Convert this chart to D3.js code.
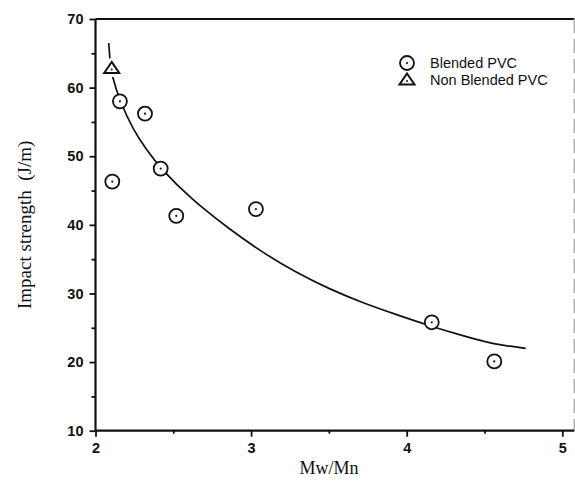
<!DOCTYPE html>
<html>
<head>
<meta charset="utf-8">
<script src="https://cdn.jsdelivr.net/npm/d3@7"></script>
<style>
  body { margin: 0; background: #fff; }
  svg { display: block; }
</style>
</head>
<body>
<div id="chart"></div>
<script>
// values
const blendedX = [2.157, 2.318, 2.419, 2.108, 2.519, 3.031, 4.161, 4.563];
const blendedY = [58.0, 56.2, 48.2, 46.3, 41.3, 42.3, 25.8, 20.1];
const nonBlendedX = [2.104];
const nonBlendedY = [62.8];

// fitted curve, traced point by point
const curveX = [2.085, 2.088, 2.094, 2.104, 2.157, 2.243, 2.329, 2.419, 2.607, 2.864, 3.078, 3.293, 3.507, 3.721, 3.936, 4.118, 4.364, 4.557, 4.765];
const curveY = [66.5, 65.6, 63.8, 61.8, 58.0, 53.8, 50.9, 48.2, 43.9, 39.3, 35.9, 33.0, 30.6, 28.6, 26.9, 25.5, 23.8, 22.6, 22.0];

const xTicks = [2, 3, 4, 5];
const xMinor = [2.5, 3.5, 4.5];
const yTicks = [10, 20, 30, 40, 50, 60, 70];
const yMinor = [15, 25, 35, 45, 55, 65];

const legendLabels = ['Blended PVC', 'Non Blended PVC'];

const W = 575, H = 483;
const margin = { top: 19, right: 12.7, bottom: 52.3, left: 95.5 };
const width = W - margin.left - margin.right;
const height = H - margin.top - margin.bottom;

const svg = d3.select('#chart').append('svg')
  .attr('width', W)
  .attr('height', H);

const g = svg.append('g')
  .attr('transform', `translate(${margin.left},${margin.top})`);

const x = d3.scaleLinear().domain([2, 5]).range([0, width]);
const y = d3.scaleLinear().domain([10, 70]).range([height, 0]);

const tickFont = '"Liberation Sans", Arial, Helvetica, sans-serif';
const serif = '"Liberation Serif", "Times New Roman", serif';

// frame: top and right borders (right one runs a bit past x=5)
g.append('line')
  .attr('x1', 0).attr('x2', width + 12)
  .attr('y1', 0).attr('y2', 0)
  .attr('stroke', '#111').attr('stroke-width', 1.8);
g.append('line')
  .attr('x1', width + 12).attr('x2', width + 12)
  .attr('y1', 0).attr('y2', height)
  .attr('stroke', '#aaa').attr('stroke-width', 1.4)
  .attr('stroke-dasharray', '14,6');

// x axis
const xAxis = g.append('g')
  .attr('transform', `translate(0,${height})`)
  .call(d3.axisBottom(x).tickValues(xTicks).tickSize(6).tickPadding(6).tickFormat(d3.format('d')));
xAxis.select('.domain').remove();
g.append('line')
  .attr('x1', 0).attr('x2', width + 12)
  .attr('y1', height).attr('y2', height)
  .attr('stroke', '#111').attr('stroke-width', 2.2);
g.append('g')
  .attr('transform', `translate(0,${height})`)
  .call(d3.axisBottom(x).tickValues(xMinor).tickSize(3).tickFormat(''))
  .select('.domain').remove();

// y axis
const yAxis = g.append('g')
  .call(d3.axisLeft(y).tickValues(yTicks).tickSize(6).tickPadding(6).tickFormat(d3.format('d')));
yAxis.select('.domain').remove();
g.append('line')
  .attr('x1', 0).attr('x2', 0)
  .attr('y1', 0).attr('y2', height)
  .attr('stroke', '#111').attr('stroke-width', 2.2);
g.append('g')
  .call(d3.axisLeft(y).tickValues(yMinor).tickSize(4).tickFormat(''))
  .select('.domain').remove();

g.selectAll('.tick line').attr('stroke', '#111').attr('stroke-width', 1.8);
g.selectAll('.tick text')
  .attr('fill', '#111')
  .style('font-family', tickFont)
  .style('font-weight', 'bold')
  .style('font-size', '14.5px');

// fitted curve
const curveData = curveX.map((d, i) => ({ x: d, y: curveY[i] }));
const line = d3.line()
  .x(d => x(d.x))
  .y(d => y(d.y))
  .curve(d3.curveBasis);

g.append('path')
  .datum(curveData)
  .attr('fill', 'none')
  .attr('stroke', '#111')
  .attr('stroke-width', 1.7)
  .attr('d', line);

// markers
const triPath = 'M0,-6.5L7.5,4.5L-7.5,4.5Z';

function circleMark(sel) {
  sel.append('circle').attr('r', 7)
    .attr('fill', '#fff').attr('stroke', '#111').attr('stroke-width', 1.8);
  sel.append('circle').attr('r', 1.1).attr('fill', '#111');
}
function triMark(sel, halo) {
  if (halo) {
    sel.append('path').attr('d', triPath)
      .attr('fill', '#fff').attr('stroke', '#fff').attr('stroke-width', 8)
      .attr('stroke-linejoin', 'round');
  }
  sel.append('path').attr('d', triPath)
    .attr('fill', '#fff').attr('stroke', '#111').attr('stroke-width', 2)
    .attr('stroke-linejoin', 'miter');
  sel.append('circle').attr('cy', 1).attr('r', 1).attr('fill', '#111');
}

const blended = blendedX.map((d, i) => ({ x: d, y: blendedY[i] }));
const nonBlended = nonBlendedX.map((d, i) => ({ x: d, y: nonBlendedY[i] }));

g.selectAll('.blended')
  .data(blended)
  .enter()
  .append('g')
  .attr('class', 'blended')
  .attr('transform', d => `translate(${x(d.x)},${y(d.y)})`)
  .call(circleMark);

g.selectAll('.nonblended')
  .data(nonBlended)
  .enter()
  .append('g')
  .attr('class', 'nonblended')
  .attr('transform', d => `translate(${x(d.x)},${y(d.y)})`)
  .each(function () { triMark(d3.select(this), true); });

// legend
const legend = svg.append('g').attr('transform', 'translate(407,63)');
legendLabels.forEach((label, i) => {
  const row = legend.append('g').attr('transform', `translate(0,${i * 17})`);
  if (i === 0) circleMark(row.append('g'));
  else triMark(row.append('g'), false);
  row.append('text')
    .attr('x', 23)
    .attr('y', 5)
    .attr('fill', '#111')
    .style('font-family', tickFont)
    .style('font-size', '14.5px')
    .text(label);
});

// axis titles
svg.append('text')
  .attr('x', margin.left + width / 2)
  .attr('y', 474)
  .attr('text-anchor', 'middle')
  .attr('fill', '#111')
  .style('font-family', serif)
  .style('font-size', '18px')
  .text('Mw/Mn');

svg.append('text')
  .attr('transform', `translate(31,${margin.top + height / 2}) rotate(-90)`)
  .attr('text-anchor', 'middle')
  .attr('fill', '#111')
  .style('font-family', serif)
  .style('font-size', '19px')
  .style('white-space', 'pre')
  .text('Impact strength  (J/m)');
</script>
</body>
</html>
